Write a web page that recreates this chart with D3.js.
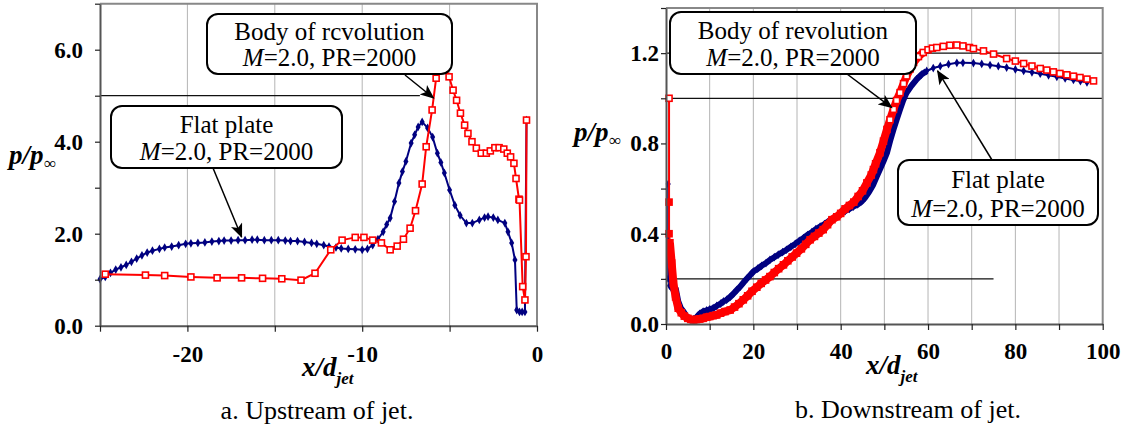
<!DOCTYPE html>
<html>
<head>
<meta charset="utf-8">
<script src="https://cdn.jsdelivr.net/npm/d3@7"></script>
<style>
  body { margin: 0; background: #fff; }
  svg { display: block; }
</style>
</head>
<body>
<div id="chart"></div>
<script>
// upstream of jet (panel a): [x/djet, p/pinf]
const upFlat = [
  [-25.0,1.01],[-24.7,1.06],[-24.4,1.15],[-24.1,1.22],[-23.8,1.27],[-23.5,1.32],[-23.2,1.39],
  [-22.9,1.46],[-22.6,1.53],[-22.3,1.59],[-22.0,1.63],[-21.6,1.67],[-21.3,1.70],[-20.9,1.72],
  [-20.5,1.75],[-20.1,1.78],[-19.8,1.79],[-19.4,1.80],[-19.0,1.81],[-18.6,1.83],[-18.2,1.84],
  [-17.9,1.85],[-17.5,1.85],[-17.1,1.86],[-16.7,1.86],[-16.3,1.87],[-16.0,1.87],[-15.6,1.86],
  [-15.2,1.86],[-14.8,1.86],[-14.4,1.85],[-14.1,1.84],[-13.7,1.84],[-13.3,1.82],[-12.9,1.80],
  [-12.6,1.78],[-12.2,1.75],[-11.9,1.72],[-11.5,1.70],[-11.2,1.68],[-10.8,1.67],[-10.4,1.66],
  [-10.0,1.65],[-9.7,1.67],[-9.4,1.75],[-9.1,1.88],[-8.8,2.04],[-8.6,2.20],[-8.4,2.34],
  [-8.15,2.70],[-7.9,3.10],[-7.7,3.35],[-7.5,3.57],[-7.2,3.97],[-7.0,4.15],[-6.8,4.32],
  [-6.57,4.43],[-6.26,4.30],[-5.97,4.10],[-5.7,3.75],[-5.5,3.55],[-5.3,3.32],[-5.0,2.95],
  [-4.7,2.62],[-4.4,2.40],[-4.04,2.23],[-3.7,2.23],[-3.3,2.30],[-3.0,2.35],[-2.8,2.37],
  [-2.5,2.35],[-2.24,2.30],[-1.84,2.23],[-1.66,2.04],[-1.45,1.80],[-1.26,1.43],[-1.16,0.34],
  [-1.0,0.30],[-0.85,0.30],[-0.69,0.30],[-0.6,4.47]
];
const upBody = [
  [-24.7,1.12],[-22.4,1.10],[-21.3,1.09],[-19.8,1.06],[-18.3,1.04],[-16.9,1.04],[-15.7,1.03],
  [-14.6,1.02],[-13.5,0.99],[-12.7,1.14],[-11.8,1.65],[-11.15,1.86],[-10.4,1.92],[-9.9,1.92],
  [-9.4,1.86],[-8.9,1.80],[-8.4,1.65],[-8.0,1.73],[-7.64,1.88],[-7.26,2.12],[-6.95,2.50],
  [-6.57,3.08],[-6.34,3.89],[-6.0,4.69],[-5.77,5.38],[-5.45,5.95],[-5.03,5.41],[-4.8,5.12],
  [-4.6,4.90],[-4.38,4.62],[-4.14,4.36],[-3.95,4.18],[-3.72,4.00],[-3.47,3.86],[-3.19,3.75],
  [-2.9,3.75],[-2.67,3.80],[-2.41,3.87],[-2.17,3.87],[-1.9,3.84],[-1.7,3.75],[-1.51,3.67],
  [-1.32,3.53],[-1.2,3.20],[-1.03,2.75],[-1.0,2.73],[-0.82,0.85],[-0.69,0.56],[-0.63,1.50],
  [-0.6,4.47]
];

// downstream of jet (panel b)
const downFlat = [
  [0.5,0.62],[0.5,0.20],[0.6,0.34],[0.8,0.17],[1.2,0.16],[1.7,0.23],[2.2,0.16],[2.8,0.10],
  [3.4,0.07],[4.0,0.055],[4.7,0.035],[5.5,0.022],[6.25,0.02],[7.0,0.03],[7.7,0.045],[8.5,0.055],
  [9.3,0.06],[10.0,0.065],[10.8,0.07],[11.6,0.08],[12.5,0.09],[13.2,0.10],[13.9,0.107],
  [14.7,0.12],[15.5,0.135],[16.2,0.15],[17.0,0.166],[17.8,0.185],[18.5,0.20],[19.3,0.217],
  [20.0,0.232],[21.0,0.245],[21.9,0.258],[22.9,0.27],[23.8,0.284],[24.8,0.296],[25.7,0.307],
  [26.7,0.318],[27.6,0.329],[28.6,0.342],[29.6,0.355],[30.5,0.368],[31.5,0.381],[32.4,0.394],
  [33.4,0.407],[34.3,0.42],[35.3,0.432],[36.3,0.443],[37.2,0.455],[38.2,0.466],[39.1,0.477],
  [40.0,0.488],[41.0,0.50],[42.0,0.51],[42.9,0.52],[43.9,0.53],[44.8,0.543],[45.6,0.56],
  [46.5,0.585],[47.4,0.615],[48.3,0.655],[49.1,0.69],[49.9,0.725],[50.6,0.759],[51.3,0.81],
  [52.1,0.862],[52.8,0.905],[53.6,0.951],[54.3,0.99],[55.1,1.025],[56.2,1.055],[57.4,1.084],
  [58.5,1.105],[59.7,1.121],[61.2,1.134],[62.8,1.142],[64.7,1.151],[66.6,1.157],[68.0,1.157],
  [70.4,1.156],[72.3,1.152],[74.2,1.147],[76.1,1.142],[78.0,1.136],[80.0,1.128],[81.9,1.121],
  [83.8,1.115],[85.7,1.109],[87.6,1.102],[89.5,1.095],[91.4,1.088],[93.3,1.081],[94.9,1.076],
  [96.4,1.07]
];
const downBody = [
  [0.7,1.00],[0.7,0.54],[0.7,0.40],[0.9,0.36],[1.3,0.27],[1.7,0.18],[2.2,0.12],[2.8,0.07],
  [3.5,0.05],[4.2,0.035],[5.0,0.025],[5.7,0.02],[6.3,0.018],[7.0,0.02],[7.7,0.022],[8.5,0.025],
  [9.3,0.03],[10.0,0.033],[10.8,0.037],[11.6,0.04],[12.5,0.048],[13.5,0.055],[14.7,0.062],
  [15.7,0.075],[16.7,0.09],[17.7,0.107],[18.7,0.125],[19.7,0.145],[20.8,0.163],[21.8,0.18],
  [22.8,0.195],[23.8,0.21],[24.8,0.228],[25.8,0.245],[26.9,0.262],[27.9,0.28],[28.9,0.297],
  [29.9,0.314],[31.0,0.333],[32.0,0.353],[33.0,0.373],[34.0,0.388],[35.0,0.403],[36.0,0.418],
  [37.0,0.44],[38.0,0.462],[39.1,0.475],[40.0,0.49],[41.0,0.51],[42.0,0.525],[43.0,0.54],
  [44.0,0.565],[45.0,0.59],[46.0,0.625],[47.0,0.66],[47.5,0.684],[48.0,0.71],[49.0,0.759],
  [49.8,0.81],[50.6,0.862],[51.3,0.905],[52.1,0.951],[52.8,0.99],[53.6,1.025],[54.4,1.065],
  [55.1,1.099],[55.9,1.13],[56.7,1.159],[57.8,1.185],[58.9,1.203],[60.0,1.215],[61.0,1.222],
  [62.0,1.225],[63.5,1.23],[65.0,1.235],[66.6,1.236],[68.0,1.232],[69.5,1.225],[70.4,1.22],
  [72.7,1.21],[75.0,1.196],[78.0,1.176],[80.0,1.165],[81.9,1.154],[83.8,1.143],[85.7,1.132],
  [87.2,1.125],[88.7,1.117],[90.2,1.11],[91.8,1.104],[93.3,1.098],[94.8,1.092],[96.4,1.085],
  [97.9,1.077]
];

// ticks and labels
const upXTicks = [-25, -20, -15, -10, -5, 0];
const upXLabels = [-20, -10, 0];
const upYTicks = [0, 1, 2, 3, 4, 5, 6, 7];
const upYLabels = [0, 2, 4, 6];
const downXTicks = [0, 10, 20, 30, 40, 50, 60, 70, 80, 90, 100];
const downXLabels = [0, 20, 40, 60, 80, 100];
const downYTicks = [0, 0.2, 0.4, 0.6, 0.8, 1.0, 1.2, 1.4];
const downYLabels = [0, 0.4, 0.8, 1.2];

// stray horizontal lines in the figure: [y, x from, x to]
const upRefLines = [[5, -25, -6.7]];
const downRefLines = [[1.0, 0, 100], [1.2, 0, 100], [0.2, 0, 75]];

const navy = "#000080", red = "#ff0000";
const serif = '"Liberation Serif"';

const svg = d3.select("#chart")
    .append("svg")
    .attr("width", 1136)
    .attr("height", 430)
    .style("font-family", serif);

svg.append("defs").append("marker")
    .attr("id", "arrow")
    .attr("viewBox", "0 -5 12 10")
    .attr("refX", 11)
    .attr("refY", 0)
    .attr("markerWidth", 15)
    .attr("markerHeight", 12)
    .attr("markerUnits", "userSpaceOnUse")
    .attr("orient", "auto")
  .append("path")
    .attr("d", "M0,-5L12,0L0,5L3,0Z")
    .attr("fill", "#000");

const panels = [
  {
    x: d3.scaleLinear().domain([-25, 0]).range([100, 537]),
    y: d3.scaleLinear().domain([0, 7]).range([325.7, 3.7]),
    flat: upFlat, body: upBody, band: false,
    xTicks: upXTicks, xLabels: upXLabels, yTicks: upYTicks, yLabels: upYLabels,
    refLines: upRefLines, yPad: 12, xPad: 14,
    ylab: [9, 164], xlab: [302, 376], caption: [317, 419, "a. Upstream of jet."],
    callouts: [
      {box: [207, 14, 245, 60], title: "Body of rcvolution", from: [405, 75], tip: [-5.92, 4.95]},
      {box: [111, 106, 231, 62], title: "Flat plate", from: [213, 168], tip: [-16.9, 1.93]}
    ]
  },
  {
    x: d3.scaleLinear().domain([0, 100]).range([666, 1102.7]),
    y: d3.scaleLinear().domain([0, 1.4]).range([324, 8]),
    flat: downFlat, body: downBody, band: true,
    xTicks: downXTicks, xLabels: downXLabels, yTicks: downYTicks, yLabels: downYLabels,
    refLines: downRefLines, yPad: 2, xPad: 13,
    ylab: [574, 141], xlab: [866, 374], caption: [908, 418, "b. Downstream of jet."],
    callouts: [
      {box: [670, 12, 246, 62], title: "Body of revolution", from: [847, 74], tip: [51.7, 0.959]},
      {box: [898, 160, 200, 65], title: "Flat plate", from: [992, 160], tip: [62.2, 1.121]}
    ]
  }
];

panels.forEach(p => {
  const g = svg.append("g");
  const [x0, x1] = p.x.range();
  const [y0, y1] = p.y.range();

  // vertical gridlines
  g.append("g").selectAll("line")
    .data(p.xTicks.slice(1, -1))
    .join("line")
      .attr("x1", d => p.x(d)).attr("x2", d => p.x(d))
      .attr("y1", y0).attr("y2", y1)
      .attr("stroke", "#b4b4b4").attr("stroke-width", 1);

  // horizontal stray lines
  g.append("g").selectAll("line")
    .data(p.refLines)
    .join("line")
      .attr("x1", d => p.x(d[1])).attr("x2", d => p.x(d[2]))
      .attr("y1", d => p.y(d[0])).attr("y2", d => p.y(d[0]))
      .attr("stroke", "#111").attr("stroke-width", 1.2);

  // frame top and right
  g.append("path")
    .attr("d", `M${x0},${y1}H${x1}V${y0}`)
    .attr("fill", "none").attr("stroke", "#888").attr("stroke-width", 2);

  const line = d3.line().x(d => p.x(d[0])).y(d => p.y(d[1]));

  // flat plate: navy diamonds
  if (p.band) {
    g.append("path").datum(p.flat.filter(d => d[0] > 2 && d[0] < 60))
      .attr("d", line).attr("fill", "none")
      .attr("stroke", navy).attr("stroke-width", 6);
  }
  g.append("path").datum(p.flat)
    .attr("d", line).attr("fill", "none")
    .attr("stroke", navy).attr("stroke-width", 2);
  g.append("g").selectAll("path")
    .data(p.flat)
    .join("path")
      .attr("d", d3.symbol(d3.symbolDiamond, 22))
      .attr("transform", d => `translate(${p.x(d[0])},${p.y(d[1])})`)
      .attr("fill", navy);

  // body of revolution: red squares
  if (p.band) {
    g.append("path").datum(p.body.filter(d => d[0] > 0.8 && d[0] < 60))
      .attr("d", line).attr("fill", "none")
      .attr("stroke", red).attr("stroke-width", 8);
  }
  g.append("path").datum(p.body)
    .attr("d", line).attr("fill", "none")
    .attr("stroke", red).attr("stroke-width", 2);
  g.append("g").selectAll("rect")
    .data(p.body)
    .join("rect")
      .attr("x", d => p.x(d[0]) - 3).attr("y", d => p.y(d[1]) - 3)
      .attr("width", 6).attr("height", 6)
      .attr("fill", d => p.band && d[0] < 58 && d[1] < 0.9 ? red : "#fff")
      .attr("stroke", red).attr("stroke-width", 1.6);

  // axes
  const yAxis = d3.axisLeft(p.y)
      .tickValues(p.yTicks).tickSize(5).tickSizeOuter(0).tickPadding(p.yPad)
      .tickFormat(v => p.yLabels.includes(v) ? d3.format(".1f")(v) : "");
  const xAxis = d3.axisBottom(p.x)
      .tickValues(p.xTicks).tickSize(6).tickSizeOuter(0).tickPadding(p.xPad)
      .tickFormat(v => p.xLabels.includes(v) ? v : "");

  [g.append("g").attr("transform", `translate(${x0},0)`).call(yAxis),
   g.append("g").attr("transform", `translate(0,${y0})`).call(xAxis)]
    .forEach(a => {
      a.attr("font-family", null).attr("font-size", null);
      a.select(".domain").attr("stroke", "#555").attr("stroke-width", 2);
      a.selectAll(".tick line").attr("stroke", "#222").attr("stroke-width", 1.2);
      a.selectAll("text")
        .style("font-family", serif)
        .style("font-size", "23px")
        .style("font-weight", "bold")
        .attr("fill", "#000");
    });

  // axis titles
  const yl = svg.append("text")
      .attr("x", p.ylab[0]).attr("y", p.ylab[1])
      .style("font-family", serif)
      .attr("font-size", 27).attr("font-style", "italic").attr("font-weight", "bold");
  yl.append("tspan").text("p/p");
  yl.append("tspan").attr("font-size", 17).attr("dy", 5).text("\u221e");

  const xl = svg.append("text")
      .attr("x", p.xlab[0]).attr("y", p.xlab[1])
      .style("font-family", serif)
      .attr("font-size", 27).attr("font-style", "italic").attr("font-weight", "bold");
  xl.append("tspan").text("x/d");
  xl.append("tspan").attr("font-size", 17).attr("dy", 8).text("jet");

  svg.append("text")
      .attr("x", p.caption[0]).attr("y", p.caption[1])
      .style("font-family", serif)
      .attr("text-anchor", "middle").attr("font-size", 26)
      .text(p.caption[2]);

  // callouts
  p.callouts.forEach(c => {
    const [bx, by, bw, bh] = c.box;
    svg.append("line")
      .attr("x1", c.from[0]).attr("y1", c.from[1])
      .attr("x2", p.x(c.tip[0])).attr("y2", p.y(c.tip[1]))
      .attr("stroke", "#000").attr("stroke-width", 1.5)
      .attr("marker-end", "url(#arrow)");
    svg.append("rect")
      .attr("x", bx).attr("y", by).attr("width", bw).attr("height", bh)
      .attr("rx", 11).attr("fill", "#fff")
      .attr("stroke", "#000").attr("stroke-width", 2);
    svg.append("text")
      .attr("x", bx + bw / 2).attr("y", by + bh * 0.4 + 2)
      .style("font-family", serif)
      .attr("text-anchor", "middle").attr("font-size", 25)
      .text(c.title);
    const t2 = svg.append("text")
      .attr("x", bx + bw / 2).attr("y", by + bh * 0.87)
      .style("font-family", serif)
      .attr("text-anchor", "middle").attr("font-size", 25);
    t2.append("tspan").attr("font-style", "italic").text("M");
    t2.append("tspan").text("=2.0, PR=2000");
  });
});
</script>
</body>
</html>
